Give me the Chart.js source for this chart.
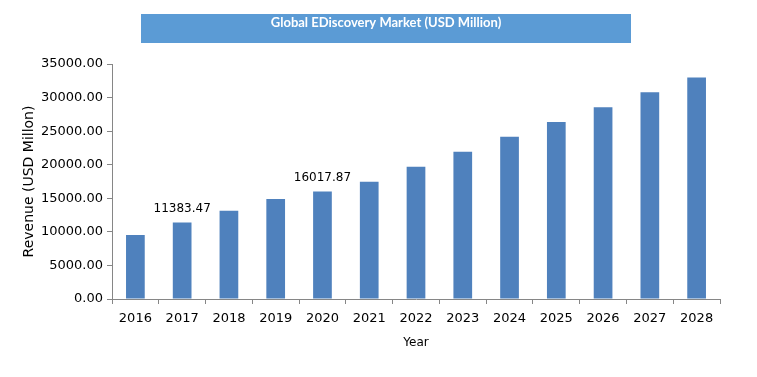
<!DOCTYPE html>
<html>
<head>
<meta charset="utf-8">
<script src="https://cdn.jsdelivr.net/npm/chart.js@4.4.0/dist/chart.umd.min.js"></script>
<style>
  html, body { margin: 0; padding: 0; background: #fff; }
  #wrap { width: 757px; height: 377px; }
</style>
</head>
<body>
<div id="wrap"><canvas id="c" width="757" height="377"></canvas></div>
<script>
const chartTitle = "Global EDiscovery Market (USD Million)";
const years = ["2016","2017","2018","2019","2020","2021","2022","2023","2024","2025","2026","2027","2028"];
const revenue = [9530, 11383.47, 13160, 14900, 16017.87, 17480, 19680, 21920, 24150, 26380, 28560, 30800, 32990];
const shownLabels = ["", "11383.47", "", "", "16017.87", "", "", "", "", "", "", "", ""];
const yTickMax = 35000;
const yTickStep = 5000;
const xTitle = "Year";
const yTitle = "Revenue (USD Millon)";

const titleBoxPlugin = {
  id: 'titleBox',
  beforeDraw(chart) {
    const ctx = chart.ctx;
    ctx.save();
    ctx.fillStyle = '#5B9BD5';
    ctx.fillRect(141, 14, 490, 29);
    ctx.fillStyle = '#ffffff';
    ctx.font = 'bold 13px Lato, "Open Sans", sans-serif';
    ctx.textAlign = 'center';
    ctx.textBaseline = 'middle';
    ctx.fillText(chartTitle, 386, 23);
    ctx.restore();
  }
};

const dataLabelPlugin = {
  id: 'dataLabels',
  afterDatasetsDraw(chart) {
    const ctx = chart.ctx;
    const meta = chart.getDatasetMeta(0);
    ctx.save();
    ctx.fillStyle = '#000';
    ctx.font = '12px "DejaVu Sans", sans-serif';
    ctx.textAlign = 'center';
    ctx.textBaseline = 'bottom';
    meta.data.forEach((bar, i) => {
      const t = shownLabels[i];
      if (t) ctx.fillText(t, bar.x, bar.y - 8);
    });
    ctx.restore();
  }
};

new Chart(document.getElementById('c'), {
  type: 'bar',
  data: {
    labels: years,
    datasets: [{
      data: revenue,
      backgroundColor: '#4F81BD',
      borderWidth: 0,
      barPercentage: 0.4,
      categoryPercentage: 1.0
    }]
  },
  options: {
    responsive: false,
    animation: false,
    devicePixelRatio: 1,
    layout: { padding: { top: 64, right: 37, bottom: 0, left: 0 } },
    plugins: { legend: { display: false }, tooltip: { enabled: false }, title: { display: false } },
    scales: {
      x: {
        grid: { display: true, drawOnChartArea: false, drawTicks: true, tickLength: 5, color: '#868686', offset: true },
        border: { display: true, color: '#868686', width: 1 },
        ticks: { color: '#000', font: { family: '"DejaVu Sans", sans-serif', size: 13 }, padding: 7, maxRotation: 0, autoSkip: false },
        title: { display: true, text: xTitle, color: '#000', font: { family: '"DejaVu Sans", sans-serif', size: 12 }, padding: { top: 0, bottom: 27 } },
        afterFit(scale) { scale.height = 78; scale.paddingLeft = 0; scale.paddingRight = 0; }
      },
      y: {
        min: 0, max: yTickMax,
        grid: { display: true, drawOnChartArea: false, drawTicks: true, tickLength: 5, color: '#868686' },
        border: { display: true, color: '#868686', width: 1 },
        ticks: { stepSize: yTickStep, color: '#000', font: { family: '"DejaVu Sans", sans-serif', size: 13 }, padding: 4,
                 callback: (v) => Number(v).toFixed(2) },
        title: { display: true, text: yTitle, color: '#000', font: { family: '"DejaVu Sans", sans-serif', size: 14 }, padding: { top: 21, bottom: 0 } },
        afterFit(scale) { scale.width = 112; scale.paddingTop = 0; scale.paddingBottom = 0; }
      }
    }
  },
  plugins: [titleBoxPlugin, dataLabelPlugin]
});
</script>
</body>
</html>
